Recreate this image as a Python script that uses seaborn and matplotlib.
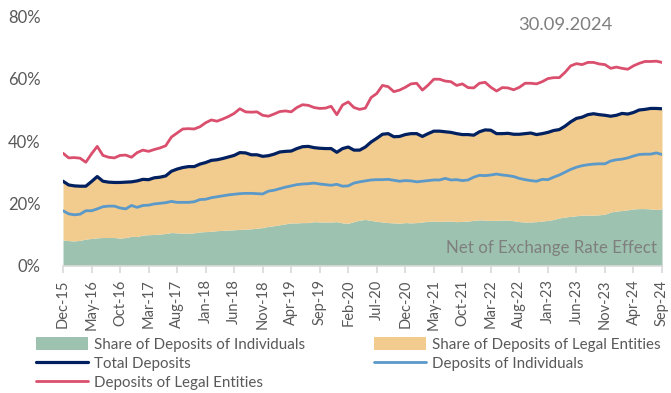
import numpy as np
import pandas as pd
import matplotlib
matplotlib.use("Agg")
import matplotlib.pyplot as plt
from matplotlib.patches import Patch
from matplotlib.lines import Line2D
import seaborn as sns

# Monthly shares of foreign-currency deposits (%), Dec-2015 .. Sep-2024
total_deposits = [
    27.1, 25.9, 25.6, 25.5, 25.5, 27.0, 28.6, 27.1, 26.8, 26.7,
    26.7, 26.8, 26.9, 27.2, 27.7, 27.6, 28.2, 28.4, 28.8, 30.3,
    31.0, 31.5, 31.8, 31.8, 32.6, 33.1, 33.8, 34.0, 34.4, 34.9,
    35.4, 36.3, 36.2, 35.6, 35.6, 35.1, 35.3, 35.8, 36.5, 36.7,
    36.8, 37.6, 38.2, 38.3, 37.9, 37.7, 37.6, 37.6, 36.4, 37.6,
    38.1, 37.1, 37.1, 38.1, 39.7, 40.9, 42.2, 42.4, 41.4, 41.5,
    42.1, 42.4, 42.4, 41.5, 42.4, 43.2, 43.2, 43.0, 42.8, 42.4,
    42.1, 42.1, 41.9, 43.0, 43.6, 43.5, 42.4, 42.4, 42.5, 42.2,
    42.2, 42.4, 42.6, 42.1, 42.4, 42.8, 43.4, 43.7, 44.8, 46.2,
    47.3, 47.7, 48.5, 48.8, 48.5, 48.3, 48.0, 48.3, 48.9, 48.7,
    49.2, 50.0, 50.2, 50.5, 50.5, 50.4,
]
legal_entities = [
    36.1, 34.6, 34.7, 34.5, 33.2, 35.9, 38.3, 35.4, 34.8, 34.6,
    35.4, 35.5, 34.8, 36.3, 37.1, 36.7, 37.3, 37.8, 38.5, 41.3,
    42.6, 43.9, 44.0, 43.9, 44.6, 45.9, 46.8, 46.4, 47.1, 47.9,
    48.9, 50.4, 49.4, 49.3, 49.4, 48.3, 48.0, 48.7, 49.5, 49.7,
    49.4, 50.8, 51.7, 51.5, 50.8, 50.5, 50.6, 51.2, 48.5, 51.6,
    52.6, 50.8, 50.2, 50.6, 54.0, 55.3, 57.9, 57.5, 55.9, 56.4,
    57.3, 58.4, 58.6, 56.4, 58.0, 59.9, 59.9, 59.3, 59.1, 57.9,
    58.4, 57.2, 57.1, 58.6, 58.9, 57.3, 56.1, 57.2, 57.1, 56.5,
    57.3, 58.6, 58.6, 58.4, 59.1, 60.1, 60.4, 60.4, 62.1, 64.2,
    64.9, 64.6, 65.3, 65.3, 64.8, 64.6, 63.4, 63.8, 63.4, 63.1,
    64.2, 65.0, 65.6, 65.6, 65.7, 65.3,
]
individuals = [
    17.6, 16.6, 16.3, 16.5, 17.6, 17.6, 18.2, 18.9, 19.1, 19.1,
    18.5, 18.2, 19.3, 18.7, 19.3, 19.4, 19.8, 20.0, 20.2, 20.6,
    20.3, 20.3, 20.3, 20.5, 21.2, 21.3, 21.8, 22.1, 22.4, 22.7,
    22.9, 23.1, 23.2, 23.2, 23.1, 23.0, 23.9, 24.2, 24.7, 25.2,
    25.6, 26.0, 26.2, 26.3, 26.5, 26.2, 26.0, 25.8, 26.1, 25.5,
    25.6, 26.5, 26.9, 27.2, 27.5, 27.6, 27.6, 27.7, 27.4, 27.1,
    27.3, 27.2, 26.9, 27.1, 27.3, 27.5, 27.5, 28.0, 27.5, 27.6,
    27.3, 27.5, 28.4, 29.0, 28.9, 29.1, 29.4, 29.1, 28.9, 28.6,
    28.0, 27.6, 27.3, 27.1, 27.7, 27.6, 28.4, 29.1, 30.0, 30.9,
    31.6, 32.1, 32.4, 32.6, 32.7, 32.7, 33.6, 34.0, 34.2, 34.6,
    35.2, 35.7, 35.8, 35.8, 36.2, 35.7,
]
share_individuals = [
    8.2, 8.0, 7.9, 8.1, 8.5, 8.7, 8.9, 9.0, 9.0, 9.0,
    8.8, 9.0, 9.4, 9.3, 9.8, 9.9, 10.0, 10.1, 10.3, 10.6,
    10.5, 10.4, 10.4, 10.5, 10.8, 10.9, 11.0, 11.2, 11.3, 11.4,
    11.5, 11.6, 11.7, 11.8, 12.0, 12.2, 12.6, 12.8, 13.1, 13.4,
    13.7, 13.7, 13.8, 13.8, 14.1, 14.0, 14.0, 14.0, 14.1, 13.7,
    13.6, 14.1, 14.6, 14.8, 14.5, 14.2, 14.0, 13.8, 13.7, 13.6,
    13.8, 13.7, 13.8, 14.0, 14.2, 14.3, 14.2, 14.3, 14.3, 14.1,
    14.2, 14.3, 14.5, 14.7, 14.6, 14.5, 14.5, 14.6, 14.6, 14.4,
    14.1, 14.0, 14.0, 14.1, 14.3, 14.5, 14.8, 15.3, 15.6, 15.8,
    16.0, 16.2, 16.2, 16.2, 16.3, 16.5, 17.2, 17.5, 17.7, 17.9,
    18.2, 18.3, 18.3, 18.2, 18.0, 18.2,
]
tick_labels = [
    "Dec-15", "May-16", "Oct-16", "Mar-17", "Aug-17", "Jan-18", "Jun-18",
    "Nov-18", "Apr-19", "Sep-19", "Feb-20", "Jul-20", "Dec-20", "May-21",
    "Oct-21", "Mar-22", "Aug-22", "Jan-23", "Jun-23", "Nov-23", "Apr-24",
    "Sep-24",
]

months = pd.date_range("2015-12-01", periods=len(total_deposits), freq="MS")
df = pd.DataFrame({
    "t": np.arange(len(months)),
    "total": total_deposits,
    "legal": legal_entities,
    "indiv": individuals,
    "share_ind": share_individuals,
})
# the legal-entity share sits on top of the individual share and adds up to total
df["share_legal"] = df["total"] - df["share_ind"]

C_GREEN = "#9DC3B0"
C_ORANGE = "#F2CB8E"
C_NAVY = "#002060"
C_BLUE = "#5B99C9"
C_RED = "#DA4F6D"
C_TEXT = "#595959"

sns.set_theme(style="white")
plt.rcParams["font.family"] = ["Lato", "DejaVu Sans"]

fig = plt.figure(figsize=(6.71, 3.93), dpi=100)
ax = fig.add_axes([63 / 671, 1 - 265.5 / 393, (662 - 63) / 671, (265.5 - 16.7) / 393])

ax.fill_between(df["t"], 0, df["share_ind"], color=C_GREEN, linewidth=0)
ax.fill_between(df["t"], df["share_ind"], df["total"], color=C_ORANGE, linewidth=0)

sns.lineplot(data=df, x="t", y="indiv", ax=ax, color=C_BLUE, linewidth=2.0)
sns.lineplot(data=df, x="t", y="legal", ax=ax, color=C_RED, linewidth=2.0)
sns.lineplot(data=df, x="t", y="total", ax=ax, color=C_NAVY, linewidth=2.3)

ax.set_xlim(0, len(months) - 1)
ax.set_ylim(0, 80)
ax.set_xlabel("")
ax.set_ylabel("")

ax.set_xticks(np.arange(0, len(months), 5))
ax.set_xticklabels(tick_labels, rotation=90, fontsize=10.5, color=C_TEXT)
ax.set_yticks([0, 20, 40, 60, 80])
ax.set_yticklabels([f"{v}%" for v in [0, 20, 40, 60, 80]], fontsize=12, color=C_TEXT)

for side in ["top", "right", "left"]:
    ax.spines[side].set_visible(False)
ax.spines["bottom"].set_color("#D9D9D9")
ax.spines["bottom"].set_linewidth(1.2)
ax.tick_params(axis="x", which="major", bottom=True, length=5, width=1.2,
               color="#D9D9D9", pad=5)
ax.tick_params(axis="y", left=False, pad=10)
ax.grid(False)

fig.text(565 / 671, 1 - 25 / 393, "30.09.2024", fontsize=13.2, color="#7F7F7F",
         ha="center", va="center")
fig.text(552 / 671, 1 - 248 / 393, "Net of Exchange Rate Effect", fontsize=12.2,
         color="#7F7F7F", ha="center", va="center")

handles = [
    Patch(facecolor=C_GREEN, edgecolor="none"),
    Line2D([], [], color=C_NAVY, linewidth=2.3),
    Line2D([], [], color=C_RED, linewidth=2.0),
    Patch(facecolor=C_ORANGE, edgecolor="none"),
    Line2D([], [], color=C_BLUE, linewidth=2.0),
]
labels = [
    "Share of Deposits of Individuals",
    "Total Deposits",
    "Deposits of Legal Entities",
    "Share of Deposits of Legal Entities",
    "Deposits of Individuals",
]
leg = fig.legend(handles, labels, ncol=2, loc="upper left",
                 bbox_to_anchor=(36 / 671, 1 - 337 / 393), frameon=False,
                 fontsize=10.9, handlelength=3.45, handleheight=0.9,
                 handletextpad=0.4, columnspacing=4.5, labelspacing=0.3,
                 borderpad=0, borderaxespad=0)
for txt in leg.get_texts():
    txt.set_color(C_TEXT)

fig.savefig("out.png", dpi=100)
